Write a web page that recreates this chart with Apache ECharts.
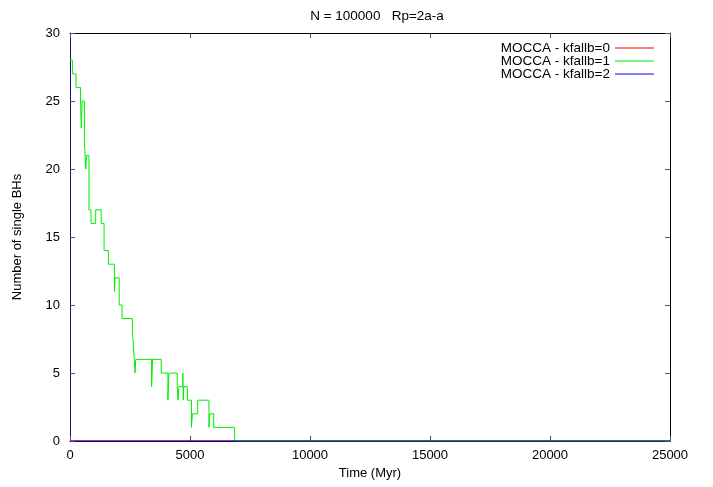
<!DOCTYPE html>
<html>
<head>
<meta charset="utf-8">
<script src="https://cdn.jsdelivr.net/npm/echarts@6/dist/echarts.min.js"></script>
<style>
  html, body { margin: 0; padding: 0; background: #fff; }
  #chart { width: 713px; height: 487px; }
</style>
</head>
<body>
<div id="chart"></div>
<script>
// time in Myr, value = number of single BHs (step: holds until next time)
const kf1Times = [0, 100, 250, 440, 470, 510, 600, 655, 695, 790, 875, 1070, 1300, 1420, 1600, 1850, 1880, 2050, 2170, 2600, 2680, 2710, 2740, 3400, 3440, 3800, 4080, 4120, 4470, 4500, 4540, 4700, 4720, 4740, 4890, 5060, 5100, 5320, 5790, 5820, 5990, 6860, 25000]
const kf1Values = [28, 27, 26, 25, 23, 25, 22, 20, 21, 17, 16, 17, 16, 14, 13, 11, 12, 10, 9, 8, 6, 5, 6, 4, 6, 5, 3, 5, 4, 3, 4, 5, 3, 4, 3, 1, 2, 3, 1, 2, 1, 0, 0]
const kf0Times = [0, 25000]
const kf0Values = [0, 0]
const kf2Times = [0, 25000]
const kf2Values = [0, 0]

const xTicks = [0, 5000, 10000, 15000, 20000, 25000]
const yTicks = [0, 5, 10, 15, 20, 25, 30]

const pairs = (ts, vs) => ts.map((t, i) => [t, vs[i]])

const font = 'Liberation Sans, Arial, sans-serif'
const fs = 13
const tickStyle = { show: true, inside: true, length: 5, lineStyle: { color: '#555', width: 1 } }

const chart = echarts.init(document.getElementById('chart'))
chart.setOption({
  animation: false,
  title: {
    text: 'N = 100000   Rp=2a-a',
    left: 372, top: 4, textAlign: 'center',
    textStyle: { fontFamily: font, fontSize: 13.5, fontWeight: 'normal', color: '#000' }
  },
  legend: {
    orient: 'vertical', right: 54, top: 36, align: 'right',
    icon: 'rect', itemWidth: 39, itemHeight: 1, itemGap: -1,
    textStyle: { fontFamily: font, fontSize: 13.5, color: '#000', padding: [0, 0, 0, 0] },
    data: ['MOCCA - kfallb=0', 'MOCCA - kfallb=1', 'MOCCA - kfallb=2']
  },
  grid: { left: 70, right: 43, top: 33, bottom: 46 },
  xAxis: [{
    type: 'value', min: xTicks[0], max: xTicks[xTicks.length - 1], interval: 5000,
    name: 'Time (Myr)', nameLocation: 'middle', nameGap: 25,
    nameTextStyle: { fontFamily: font, fontSize: fs, color: '#000' },
    axisLine: { show: true, onZero: false, lineStyle: { color: '#000', width: 1 } },
    axisTick: tickStyle,
    axisLabel: { fontFamily: font, fontSize: fs, color: '#000', margin: 8, formatter: v => String(v) },
    splitLine: { show: false }
  }, {
    type: 'value', position: 'top', min: xTicks[0], max: xTicks[xTicks.length - 1], interval: 5000,
    axisLine: { show: true, onZero: false, lineStyle: { color: '#000', width: 1 } },
    axisTick: tickStyle, axisLabel: { show: false }, splitLine: { show: false }
  }],
  yAxis: [{
    type: 'value', min: yTicks[0], max: yTicks[yTicks.length - 1], interval: 5,
    name: 'Number of single BHs', nameLocation: 'middle', nameGap: 46,
    nameTextStyle: { fontFamily: font, fontSize: fs, color: '#000' },
    axisLine: { show: true, onZero: false, lineStyle: { color: '#12127a', width: 1 } },
    axisTick: tickStyle,
    axisLabel: { fontFamily: font, fontSize: fs, color: '#000', margin: 10 },
    splitLine: { show: false }
  }, {
    type: 'value', position: 'right', min: yTicks[0], max: yTicks[yTicks.length - 1], interval: 5,
    axisLine: { show: true, onZero: false, lineStyle: { color: '#000', width: 1 } },
    axisTick: tickStyle, axisLabel: { show: false }, splitLine: { show: false }
  }],
  series: [
    {
      name: 'MOCCA - kfallb=0', type: 'line', step: 'end', symbol: 'none',
      data: pairs(kf0Times, kf0Values),
      itemStyle: { color: '#ff0000' }, lineStyle: { color: '#ff0000', width: 1 }
    },
    {
      name: 'MOCCA - kfallb=1', type: 'line', step: 'end', symbol: 'none',
      data: pairs(kf1Times, kf1Values),
      itemStyle: { color: '#00ee00' }, lineStyle: { color: '#00ee00', width: 1 }
    },
    {
      name: 'MOCCA - kfallb=2', type: 'line', step: 'end', symbol: 'none',
      data: pairs(kf2Times, kf2Values),
      itemStyle: { color: '#0000ff' }, lineStyle: { color: '#0000ff', width: 1 }
    }
  ]
})
</script>
</body>
</html>
